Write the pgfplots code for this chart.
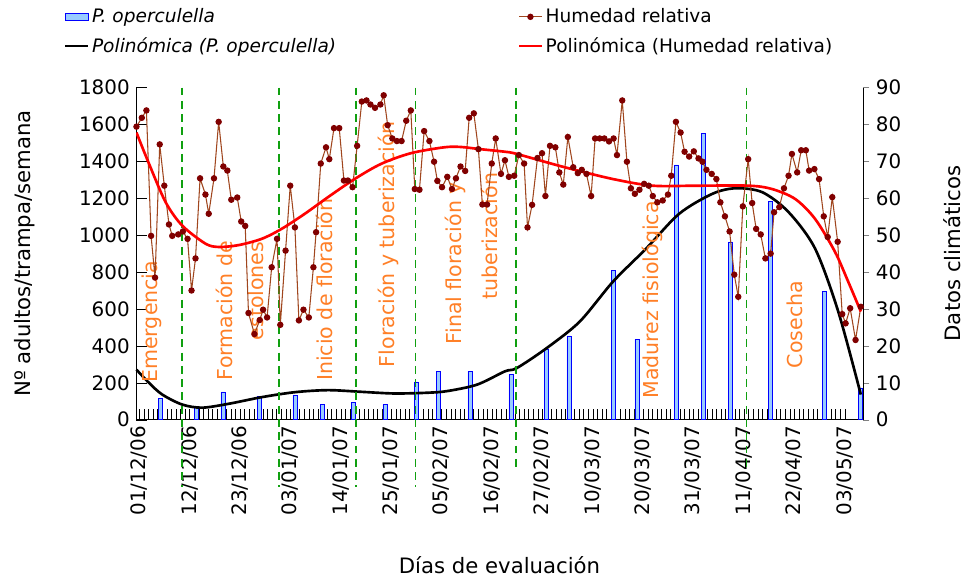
\documentclass[border=0pt]{standalone}
\usepackage{pgfplots}
\pgfplotsset{compat=1.18}
\usepackage{fontspec}
\setmainfont{DejaVu Sans}
\definecolor{hum}{HTML}{A0461E}
\definecolor{humm}{HTML}{800000}
\definecolor{barf}{HTML}{99CCFF}
\definecolor{stage}{HTML}{FF7F27}
\definecolor{gdash}{HTML}{10A010}
\begin{document}
\fontsize{14}{16}\selectfont
\begin{tikzpicture}
\pgfplotsset{every axis/.append style={
  scale only axis, width=548pt, height=250.5pt, xmin=137, xmax=868,
  /pgf/number format/assume math mode=true,
  /pgf/number format/1000 sep={},
  tick label style={font=\fontsize{15}{17}\selectfont},
  label style={font=\fontsize{16}{18}\selectfont}}}
\begin{axis}[
  axis y line*=left, axis x line*=bottom,
  ymin=0, ymax=1800, ytick={0,200,...,1800},
  xtick={140,190.7,241.4,292.1,342.8,393.5,444.2,494.9,545.6,596.3,647,697.7,748.4,799.1,849.8},
  xticklabels={01/12/06,12/12/06,23/12/06,03/01/07,14/01/07,25/01/07,05/02/07,16/02/07,27/02/07,10/03/07,20/03/07,31/03/07,11/04/07,22/04/07,03/05/07},
  x tick label style={rotate=90, anchor=east},
  minor x tick num=10, tick align=inside,
  major tick length=8pt, minor tick length=8pt,
  minor tick style={black}, major tick style={black},
  xlabel={Días de evaluación}, ylabel={Nº adultos/trampa/semana},
  xlabel style={at={(axis description cs:0.5,-0.437)}, anchor=center},
  ylabel style={at={(axis description cs:-0.153,0.5)}, anchor=center},
  clip=false,
  legend columns=2,
  legend style={draw=none, fill=none, at={(axis description cs:-0.105,1.255)}, anchor=north west,
    font=\fontsize{14}{16}\selectfont, row sep=5pt,
    /tikz/every even column/.append style={column sep=135pt}},
  legend cell align=left,
]
\addplot[ybar, bar width=4, fill=barf, draw=blue, area legend] coordinates {
(161,115)(197.3,65)(224.3,151)(260.7,128)(296.7,133)(324,82)(355.7,92)(387.3,82)(418.7,205)(441.3,262)(472.7,262)
(514,244)(550,379)(572.3,454)(617.3,810)(640.7,437)(680.7,1381)(707.3,1551)(734.7,963)(774.7,1182)(829,694)(865.7,172)};
\addlegendentry{\textit{P. operculella}}
\addlegendimage{hum, thick, mark=*, mark options={humm, fill=humm}, mark size=2pt}
\addlegendentry{Humedad relativa}
\addplot[black, line width=2pt, smooth] coordinates {
(137.3,271)(150,199)(163.3,136)(183.3,82)(203.3,65)(230,86)(263.3,122)(296.7,149)(330,160)(363.3,151)(396.7,142)(430,146)(450,155)(480,190)(508,262)
(520,280)(550,388)(583.3,532)(616.7,748)(650,927)(683.3,1116)(716.7,1224)(740,1254)(766.7,1233)(793.3,1125)(820,927)(843.3,586)(866,136)};
\addlegendentry{\textit{Polinómica (P. operculella)}}
\addlegendimage{red, line width=2pt}
\addlegendentry{Polinómica (Humedad relativa)}
\draw[gdash, dash pattern=on 6pt off 4pt, line width=1.3pt] (axis cs:183,1800) -- (axis cs:183,-366);
\draw[gdash, dash pattern=on 6pt off 4pt, line width=1.3pt] (axis cs:281,1800) -- (axis cs:281,-366);
\draw[gdash, dash pattern=on 6pt off 4pt, line width=1.3pt] (axis cs:358,1800) -- (axis cs:358,-366);
\draw[gdash, dash pattern=on 6pt off 4pt, line width=1.3pt] (axis cs:418,1800) -- (axis cs:418,-366);
\draw[gdash, dash pattern=on 6pt off 4pt, line width=1.3pt] (axis cs:519,1800) -- (axis cs:519,-258);
\draw[gdash, dash pattern=on 6pt off 4pt, line width=1.3pt] (axis cs:751,1800) -- (axis cs:751,-258);
\path[every node/.style={rotate=90, anchor=west, text=stage, font=\fontsize{15.5}{17}\selectfont}]
  (axis cs:153,165) node {Emergencia}
  (axis cs:226,180) node {Formación de}
  (axis cs:257,395) node {estolones}
  (axis cs:326,175) node {Inicio de floración}
  (axis cs:391,250) node {Floración y tuberización}
  (axis cs:458,375) node {Final floración y}
  (axis cs:492,615) node {tuberización}
  (axis cs:656,80) node {Madurez fisiológica}
  (axis cs:800,245) node {Cosecha};
\path (axis description cs:-0.1874,-0.479) (axis description cs:1.1354,1.2635);
\end{axis}
\begin{axis}[
  axis y line*=right, axis x line=none,
  ymin=0, ymax=90, ytick={0,10,...,90},
  ylabel={Datos climáticos}, tick align=outside, major tick length=5pt,
  ylabel style={at={(axis description cs:1.123,0.5)}, anchor=center, rotate=0},
]
\addplot[hum, thick, mark=*, mark options={humm, fill=humm}, mark size=2pt] coordinates {
(137.3,79.4)(142.7,81.8)(147.3,83.8)(152,49.8)(156,38.5)(160.7,74.6)(165.3,63.4)(170,52.9)(173.3,49.8)(179.3,50.2)(184,51)(188.7,49)(192.7,35)(196.7,43.7)(201.3,65.4)(206.7,61)(210,55.8)(215.3,65.4)(220,80.7)(224.7,68.6)(228.7,67.5)(232.7,59.6)(238.7,60.2)(242.7,53.7)(246.7,52.5)(250,28.9)(256,23.2)(261.3,27)(264.7,29.8)(268.7,27.7)(273.3,41.3)(278.7,49)(282,25.7)(287.3,45.8)(292,63.4)(296.7,52.1)(300.7,26.9)(305.3,29.8)(310.7,27.7)(315.3,41.3)(318,50.8)(322.7,69.4)(328,73.8)(331.3,70.6)(336,79)(341.3,79)(346,64.8)(350,64.8)(354.7,63)(359.3,74.2)(364,86.2)(368.7,86.5)(372.7,85.4)(377.3,84.5)(382.7,85.4)(386,87.9)(390,79.8)(394.7,76.2)(399.3,75.5)(404,75.5)(408.7,81)(413.3,83.8)(417.3,62.5)(422,62.3)(426.7,78.2)(432,75.5)(436.7,69.9)(440,64.7)(444.7,63)(450,65.8)(454.7,62.5)(458.7,65.4)(463.3,68.6)(468,67.4)(472,81.8)(476.7,83)(481.3,73.3)(485.3,58.3)(490,58.3)(494.7,69.4)(498.7,76.2)(504,66.6)(508,70.3)
(512,65.8)(517.3,66.1)(522,71.7)(527.3,69.4)(530.7,52.1)(535.3,58.2)(540.7,70.9)(545.3,72.2)(548.7,60.6)(553.3,74.2)(558.7,73.8)(562.7,67)(566.7,63.7)(571.3,76.6)(576.7,68.4)(581.3,66.8)(585.3,67.7)(590,66.6)(594.7,60.6)(598.7,76.2)(603.3,76.2)(608,76.2)(612.7,75.4)(617.3,76.2)(620.7,71.7)(626,86.5)(630.7,69.9)(634.7,62.7)(638.7,61.2)(643.3,62.3)(648,63.9)(652.7,63.4)(656.7,60.6)(661.3,58.9)(666.7,59.4)(672,61)(675.3,66.1)(680,80.7)(684.7,77.8)(688.7,72.6)(693.3,71.3)(698,72.7)(702.7,70.8)(706.7,69.9)(710.7,67.7)(716,66.6)(720.7,65.2)(724.7,58.9)(729.3,55.1)(734,51)(738.7,39.3)(742.7,33.3)(747.3,57.8)(752.7,70.6)(756.7,58.7)(760.7,51.7)(765.3,50.2)(770,43.7)(775.3,45)(778.7,56.2)(784,57.6)(788.7,62.7)(793.3,66.1)(796.7,72)(802,67)(806,73)(810.7,73)(814,67.5)(819.3,67.9)(824,65.2)(828.7,55.1)(832.7,49.5)(837.3,60.3)(842.7,48.2)(847.3,28.6)(850.7,26.1)(855.3,30.2)(860.7,21.6)(866,30.6)};
\addplot[red, line width=2pt, smooth] coordinates {
(137.3,77.8)(150,69.3)(166.7,58.9)(183.3,52.6)(206.7,47.7)(220,46.8)(240,47.3)(263.3,49)(283.3,51.7)(306.7,55.8)(330,60.3)(356.7,65.2)(383.3,69.3)(413.3,72.2)(446.7,73.8)(463.3,73.9)(483.3,73.3)(508,72.6)(520,72)(566.7,68.5)(616.7,65.2)(656.7,63.4)(700,63.4)(753.3,63.4)(776.7,62.5)(800,59.8)(820,54.4)(840,45.5)(853.3,37.4)(866,29.3)};
\end{axis}
\end{tikzpicture}
\end{document}
